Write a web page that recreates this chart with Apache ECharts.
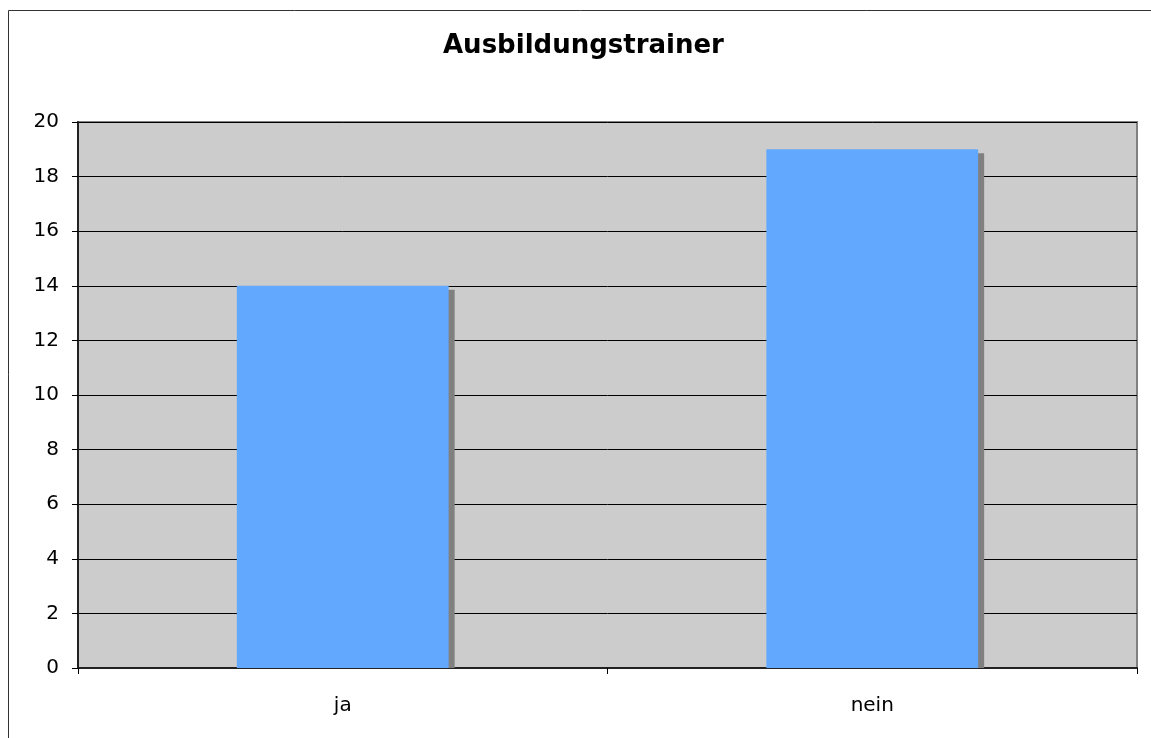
<!DOCTYPE html>
<html><head><meta charset="utf-8">
<script src="https://cdn.jsdelivr.net/npm/echarts@6/dist/echarts.min.js"></script>
<style>html,body{margin:0;padding:0;background:#fff}#c{width:1151px;height:738px}</style>
</head><body><div id="c"></div>
<script>
const categories = ['ja', 'nein'];
const values = [14, 19];
const chart = echarts.init(document.getElementById('c'));
const BAR_FRAC = 0.4;
chart.setOption({
  animation: false,
  backgroundColor: '#ffffff',
  title: {
    text: 'Ausbildungstrainer', left: 443, top: 33, padding: 0,
    textStyle: { fontFamily: 'DejaVu Sans', fontWeight: 'bold', fontSize: 26, color: '#000' }
  },
  graphic: [{
    type: 'rect', z: -10, silent: true,
    shape: { x: 8.5, y: 10.5, width: 1200, height: 800 },
    style: { fill: 'none', stroke: '#333', lineWidth: 1 }
  }],
  grid: {
    left: 78, right: 14, top: 122, bottom: 70,
    show: true, backgroundColor: '#cccccc', borderColor: '#808080', borderWidth: 2
  },
  xAxis: {
    type: 'category', data: categories,
    axisLine: { lineStyle: { color: '#222', width: 2 } },
    axisTick: { show: true, length: 6, lineStyle: { color: '#000' } },
    axisLabel: { margin: 28, fontFamily: 'DejaVu Sans', fontSize: 20, color: '#000' }
  },
  yAxis: {
    type: 'value', min: 0, max: 20, interval: 2,
    axisLine: { show: true, lineStyle: { color: '#222', width: 2 } },
    axisTick: { show: true, length: 6, lineStyle: { color: '#000' } },
    axisLabel: { margin: 19, fontFamily: 'DejaVu Sans', fontSize: 20, color: '#000' },
    splitLine: { lineStyle: { color: '#000', width: 1 } }
  },
  series: [{
    type: 'custom', z: 1, silent: true,
    data: values.map((v, i) => [i, v]),
    renderItem: function (params, api) {
      const top = api.coord([api.value(0), api.value(1)]);
      const base = api.coord([api.value(0), 0]);
      const w = api.size([1, 0])[0] * BAR_FRAC;
      return {
        type: 'rect',
        shape: { x: top[0] - w / 2 + 6, y: top[1] + 4, width: w, height: base[1] - top[1] - 4 },
        style: { fill: '#808080' }
      };
    }
  }, {
    type: 'bar', data: values, barCategoryGap: '60%', z: 2,
    itemStyle: { color: '#62a8ff' }
  }]
});
</script></body></html>
